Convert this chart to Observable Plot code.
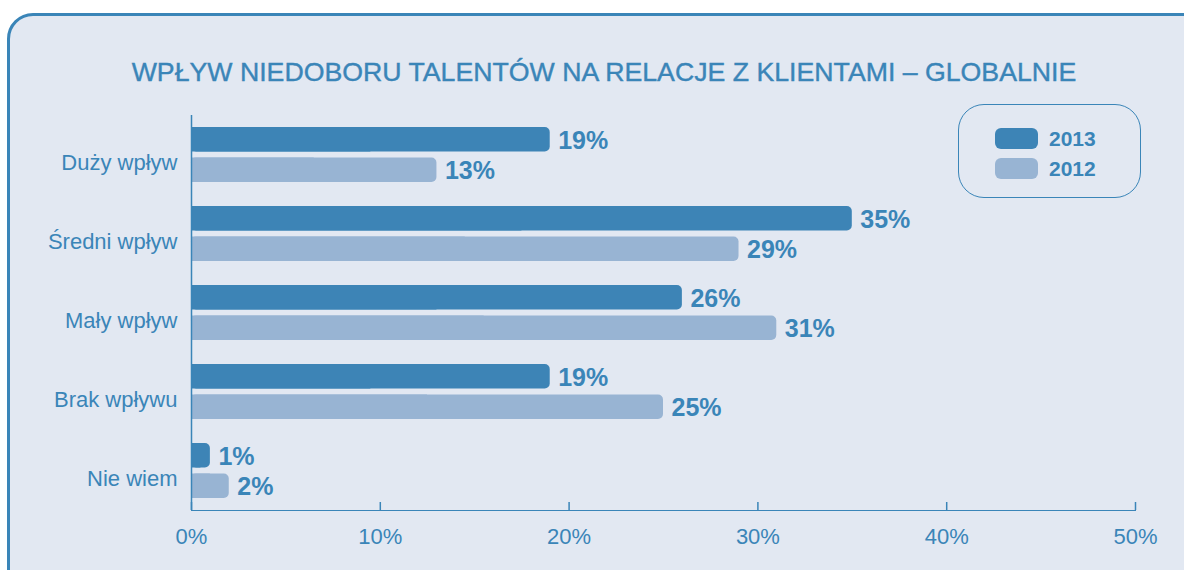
<!DOCTYPE html>
<html>
<head>
<meta charset="utf-8">
<script src="https://cdn.jsdelivr.net/npm/d3@7"></script>
<script src="https://cdn.jsdelivr.net/npm/@observablehq/plot@0.6"></script>
<style>
  html, body { margin: 0; padding: 0; background: #ffffff; overflow: hidden; }
  #wrap { position: relative; width: 1184px; height: 570px; overflow: hidden; font-family: "Liberation Sans", Arial, sans-serif; }
  #panel { position: absolute; left: 7px; top: 13px; width: 1210px; height: 600px; box-sizing: border-box;
           border: 3px solid #3a85b8; border-radius: 26px; background: #e2e8f2; }
  #title { position: absolute; left: 0; top: 57px; width: 1208px; text-align: center; font-size: 26.7px; line-height: 30px;
           color: #3a85b8; -webkit-text-stroke: 0.4px #3a85b8; }
  #chart { position: absolute; left: 0; top: 0; }
  #legend { position: absolute; left: 958px; top: 104px; width: 183px; height: 94px; box-sizing: border-box;
            border: 1.5px solid #3a85b8; border-radius: 26px; }
  .row { position: absolute; left: 36px; height: 21px; display: flex; align-items: center; }
  .sw { width: 43px; height: 21px; border-radius: 6px; margin-right: 11px; }
  .lt { font-size: 21px; font-weight: bold; color: #3a85b8; }
</style>
</head>
<body>
<div id="wrap">
  <div id="panel"></div>
  <div id="title"></div>
  <div id="chart"></div>
  <div id="legend"></div>
</div>
<script>
const titleText = "WPŁYW NIEDOBORU TALENTÓW NA RELACJE Z KLIENTAMI – GLOBALNIE";
const categories = ["Duży wpływ", "Średni wpływ", "Mały wpływ", "Brak wpływu", "Nie wiem"];
const series = ["2013", "2012"];
const values2013 = [19, 35, 26, 19, 1];
const values2012 = [13, 29, 31, 25, 2];
const xTicks = [0, 10, 20, 30, 40, 50];

const colors = {"2013": "#3d84b6", "2012": "#98b4d3"};
const ink = "#3a85b8";

document.getElementById("title").textContent = titleText;

const d2013 = categories.map((c, i) => ({cat: c, value: values2013[i]}));
const d2012 = categories.map((c, i) => ({cat: c, value: values2012[i]}));

const W = 1184, H = 570, mTop = 115, mBottom = 60, mLeft = 191, mRight = 49;
const barInset = 30.5, labelShift = 15.25, tickLen = 8;

const chart = Plot.plot({
  width: W,
  height: H,
  marginTop: mTop,
  marginBottom: mBottom,
  marginLeft: mLeft,
  marginRight: mRight,
  style: {background: "transparent", color: ink, fontFamily: "Liberation Sans, Arial, sans-serif", fontSize: "22px", overflow: "visible"},
  x: {domain: [0, 50], ticks: xTicks, tickFormat: () => "", tickSize: 0, line: true, label: null},
  y: {domain: categories, paddingInner: 0.3, paddingOuter: 0.15, axis: null},
  marks: [
    Plot.ruleX(xTicks, {x: d => d, stroke: ink, strokeWidth: 1.5, insetTop: (H - mTop - mBottom) - tickLen}),
    Plot.barX(d2013, {x1: 0, x2: d => d.value / 2, y: "cat", fill: colors["2013"], insetBottom: barInset}),
    Plot.barX(d2013, {x: "value", y: "cat", fill: colors["2013"], insetBottom: barInset, rx: 5, ry: 5}),
    Plot.barX(d2012, {x1: 0, x2: d => d.value / 2, y: "cat", fill: colors["2012"], insetTop: barInset}),
    Plot.barX(d2012, {x: "value", y: "cat", fill: colors["2012"], insetTop: barInset, rx: 5, ry: 5}),
    Plot.ruleX([0], {stroke: ink, strokeWidth: 1.5}),
    Plot.text(d2013, {x: "value", y: "cat", text: d => d.value + "%", dx: 8, dy: -labelShift + 1, textAnchor: "start", fill: ink, fontSize: 25, fontWeight: "bold"}),
    Plot.text(d2012, {x: "value", y: "cat", text: d => d.value + "%", dx: 8, dy: labelShift + 1, textAnchor: "start", fill: ink, fontSize: 25, fontWeight: "bold"}),
    Plot.text(categories, {x: 0, y: d => d, text: d => d, dx: -14, dy: 8, textAnchor: "end", fill: ink, fontSize: 22}),
    Plot.text(xTicks, {x: d => d, frameAnchor: "bottom", dy: 33, text: d => d + "%", fill: ink, fontSize: 22})
  ]
});
document.getElementById("chart").appendChild(chart);

const legend = document.getElementById("legend");
series.forEach((s, i) => {
  const row = document.createElement("div");
  row.className = "row";
  row.style.top = (23 + i * 30) + "px";
  const sw = document.createElement("div");
  sw.className = "sw";
  sw.style.background = colors[s];
  const t = document.createElement("span");
  t.className = "lt";
  t.textContent = s;
  row.appendChild(sw);
  row.appendChild(t);
  legend.appendChild(row);
});
</script>
</body>
</html>
